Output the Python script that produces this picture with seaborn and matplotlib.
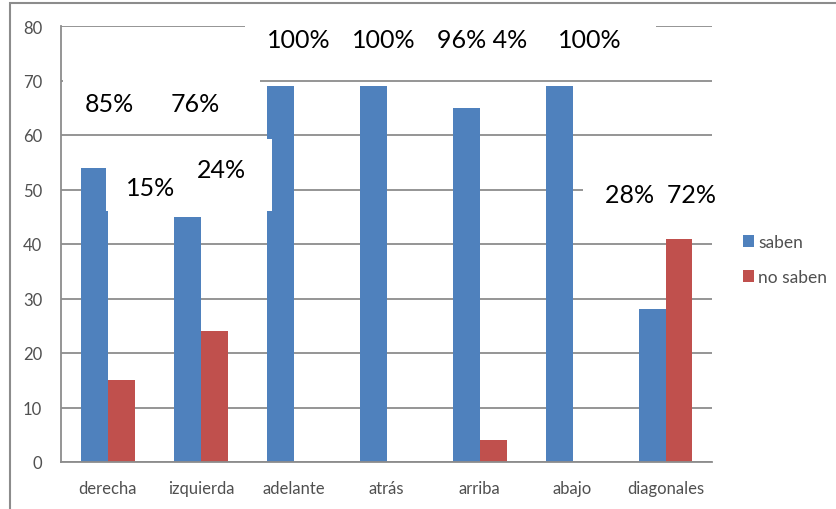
import matplotlib
matplotlib.use("Agg")
import matplotlib.pyplot as plt
import seaborn as sns
import pandas as pd
from matplotlib.patches import Rectangle

# Data
categorias = ["derecha", "izquierda", "adelante", "atrás", "arriba", "abajo", "diagonales"]
saben = [54, 45, 69, 69, 65, 69, 28]
no_saben = [15, 24, 0, 0, 4, 0, 41]
series = ["saben", "no saben"]
y_ticks = [0, 10, 20, 30, 40, 50, 60, 70, 80]

# percentage labels pasted over the chart
pct_labels = ["85%", "76%", "15%", "24%", "100%", "100%", "96% 4%", "100%", "28%  72%"]
pct_x = [0.02, 0.94, 0.46, 1.22, 2.05, 2.97, 4.03, 5.18, 5.95]
pct_y = [65.7, 65.7, 50.3, 53.6, 77.6, 77.6, 77.6, 77.6, 49.0]

azul = "#4F81BD"
rojo = "#C0504D"
gris = "#8C8C8C"
gris_texto = "#505050"

df = pd.DataFrame({
    "categoria": categorias * 2,
    "valor": saben + no_saben,
    "serie": [series[0]] * len(saben) + [series[1]] * len(no_saben),
})

sns.set_theme(style="white")
plt.rcParams["font.family"] = ["Lato", "DejaVu Sans"]

W, H = 837, 510
fig = plt.figure(figsize=(W / 100, H / 100), dpi=100)
ax = fig.add_axes([61.5 / W, 1 - 463 / H, (712 - 61.5) / W, (463 - 27) / H])

sns.barplot(data=df, x="categoria", y="valor", hue="serie", palette=[azul, rojo],
            width=0.58, saturation=1, gap=0, linewidth=0, ax=ax, zorder=2)

ax.set_xlim(-0.5, len(categorias) - 0.5)
ax.set_ylim(0, 80)
ax.set_yticks(y_ticks)
ax.set_xlabel("")
ax.set_ylabel("")
ax.yaxis.grid(True, color=gris, linewidth=1.3)
ax.set_axisbelow(True)
sns.despine(ax=ax)
for s in ["left", "bottom"]:
    ax.spines[s].set_color(gris)
    ax.spines[s].set_linewidth(1.3)

ax.set_xticks([i - 0.5 for i in range(len(categorias) + 1)], minor=True)
ax.tick_params(axis="x", which="major", length=0, pad=13, labelsize=12, labelcolor=gris_texto)
ax.tick_params(axis="x", which="minor", length=6, width=1.3, color=gris, direction="out")
ax.tick_params(axis="y", length=6, width=1.3, color=gris, direction="out", pad=8,
               labelsize=12, labelcolor=gris_texto)

# legend on the right
handles, labels = ax.get_legend_handles_labels()
ax.get_legend().remove()
fig.legend(handles, labels, loc="center left", bbox_to_anchor=(743 / W, 1 - 260.5 / H),
           frameon=False, fontsize=12.5, labelcolor=gris_texto, handlelength=0.63,
           handleheight=0.63, handletextpad=0.25, labelspacing=1.1,
           borderpad=0, borderaxespad=0)

# white text boxes pasted over the chart (pixel boxes: x0, y0, x1, y1 from top-left)
cajas = [(245, 10, 656, 76), (63, 76, 260, 128), (106, 140, 272, 212), (583, 150, 725, 235)]
for x0, y0, x1, y1 in cajas:
    ax.add_patch(Rectangle((x0 / W, 1 - y1 / H), (x1 - x0) / W, (y1 - y0) / H,
                           transform=fig.transFigure, facecolor="white",
                           edgecolor="none", zorder=3, clip_on=False))

for lab, x, y in zip(pct_labels, pct_x, pct_y):
    ax.text(x, y, lab, ha="center", va="center", fontsize=18, color="black", zorder=4)

# outer chart frame (left and top edges visible)
fig.add_artist(Rectangle((10 / W, -0.2), 1.0, 1.2 - 4 / H, transform=fig.transFigure,
                         facecolor="none", edgecolor=gris, linewidth=1.5))

fig.savefig("out.png", dpi=100)
